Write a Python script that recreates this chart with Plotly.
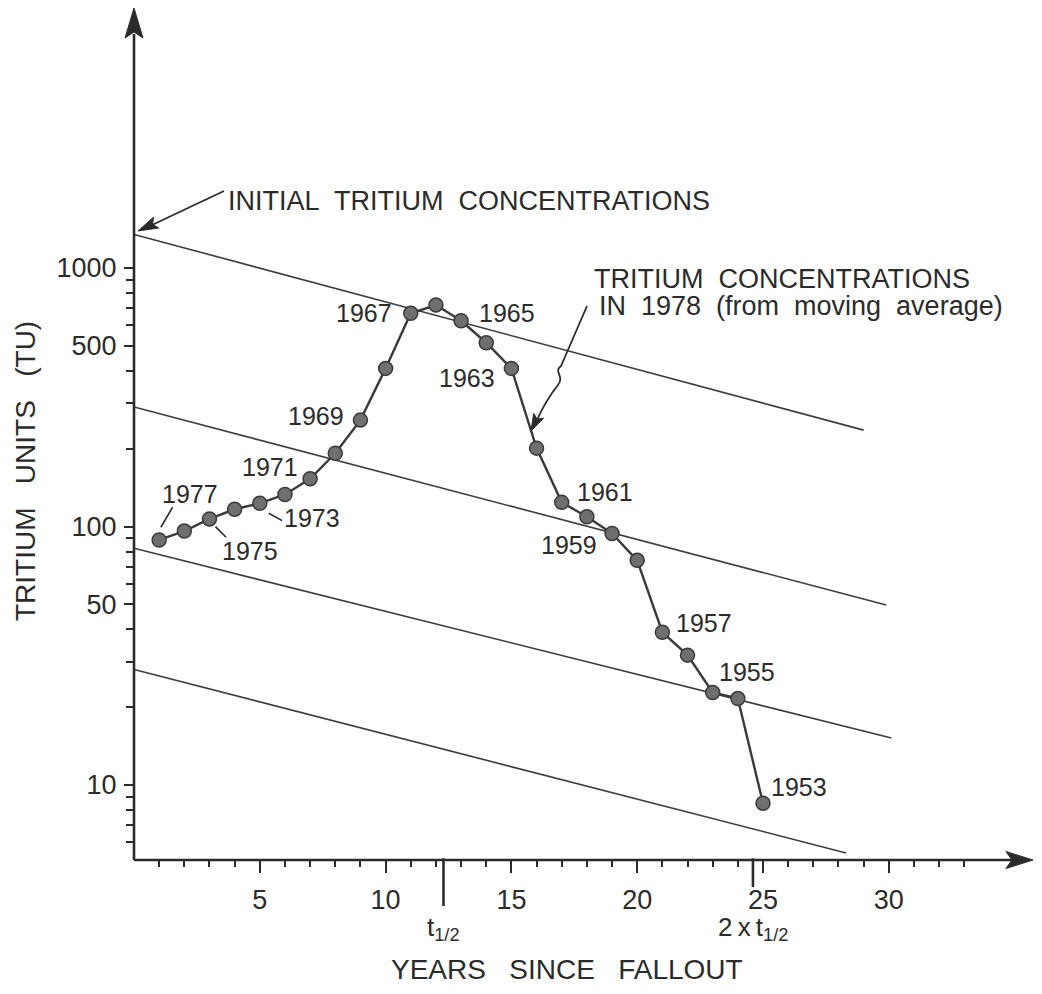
import math
import plotly.graph_objects as go

# ---- data -----------------------------------------------------------------
# Tritium in 1978 (moving average) versus years since the fallout year
years_since = list(range(1, 26))
sample_year = [1978 - t for t in years_since]
tritium_tu = [88.7, 96, 107, 116.6, 123, 133, 153, 192, 258, 409,
              668, 719, 625, 514, 409, 201, 124, 109, 94, 74,
              39, 31.8, 22.8, 21.6, 8.5]

# Radioactive-decay lines of initial tritium concentrations (start / end)
decay_start_t = [0.0, 0.0, 0.0, 0.0]
decay_start_tu = [1349, 290, 82.4, 28.0]
decay_end_t = [29.0, 29.9, 30.1, 28.3]
decay_end_tu = [236, 49.7, 15.2, 5.46]

labelled_years = [1977, 1975, 1973, 1971, 1969, 1967, 1965, 1963,
                  1961, 1959, 1957, 1955, 1953]

x_major = [5, 10, 15, 20, 25, 30]
x_minor = [t for t in range(1, 34) if t % 5]
y_major = [10, 50, 100, 500, 1000]
y_major_text = ["10", "50", "100", "500", "1000"]
y_minor = [6, 7, 8, 9, 20, 30, 40, 60, 70, 80, 90,
           200, 300, 400, 600, 700, 800, 900]

HALF_LIFE = 12.3  # years

# ---- page geometry ----------------------------------------------------------
W, H = 1042, 994
L, T, PW, PH = 134, 0, 908, 860
PX_PER_YEAR = 25.16
PX_PER_DECADE = 258.5
X_RANGE = [0, PW / PX_PER_YEAR]
Y_LOW = 0.7099
Y_RANGE = [Y_LOW, Y_LOW + PH / PX_PER_DECADE]

INK = "#2b2b2b"
FONT = "Liberation Sans, Arial, Helvetica, sans-serif"
SP = "\u00a0 "              # wide word gap
SP3 = "\u00a0\u00a0 "       # wider word gap


def paper(px, py):
    return (px - L) / PW, (T + PH - py) / PH


def path_from_px(points, close=False):
    parts = []
    for i, (px, py) in enumerate(points):
        x, y = paper(px, py)
        parts.append(("M" if i == 0 else "L") + f"{x:.5f},{y:.5f}")
    return " ".join(parts) + (" Z" if close else "")


def arrow_head(tip, tail, length, half_w, notch):
    tx, ty = tip
    dx, dy = tip[0] - tail[0], tip[1] - tail[1]
    n = math.hypot(dx, dy)
    ux, uy = dx / n, dy / n
    nx, ny = -uy, ux
    bx, by = tx - ux * length, ty - uy * length
    mx, my = tx - ux * (length - notch), ty - uy * (length - notch)
    pts = [(tx, ty), (bx + nx * half_w, by + ny * half_w), (mx, my),
           (bx - nx * half_w, by - ny * half_w)]
    return path_from_px(pts, close=True)


def text_at(px, py, text, size, xanchor="center", **kw):
    x, y = paper(px, py)
    return dict(x=x, y=y, xref="paper", yref="paper", xanchor=xanchor,
                yanchor="middle", text=text, showarrow=False,
                font=dict(family=FONT, size=size, color=INK), **kw)


fig = go.Figure()

# decay lines
for t0, c0, t1, c1 in zip(decay_start_t, decay_start_tu, decay_end_t, decay_end_tu):
    fig.add_trace(go.Scatter(
        x=[t0, t1], y=[c0, c1], mode="lines",
        line=dict(color="#3c3c3c", width=1.6),
        hoverinfo="skip", showlegend=False))

# short leader strokes for the crowded labels (pixel offsets from the point)
leaders = {1977: ((1.7, -12.7), (13.4, -32.7)),
           1975: ((6.0, 7.7), (16.6, 18.3)),
           1973: ((9.0, 10.0), (22.4, 17.4))}
for yr, segment in leaders.items():
    i = sample_year.index(yr)
    t, v = years_since[i], tritium_tu[i]
    fig.add_trace(go.Scatter(
        x=[t + dx / PX_PER_YEAR for dx, dy in segment],
        y=[v * 10 ** (-dy / PX_PER_DECADE) for dx, dy in segment],
        mode="lines", line=dict(color=INK, width=1.6),
        hoverinfo="skip", showlegend=False))

# measured series
fig.add_trace(go.Scatter(
    x=years_since, y=tritium_tu, mode="lines+markers",
    line=dict(color="#3a3a3a", width=2.4),
    marker=dict(size=14, color="#6f6f6f", line=dict(color="#3a3a3a", width=1.5)),
    text=[str(y) for y in sample_year],
    hovertemplate="%{text}: %{y} TU<extra></extra>",
    showlegend=False))

annotations = []
shapes = []

# year labels beside their points (pixel offsets, screen y down)
label_offset = {
    1977: (31, -46), 1975: (41, 32), 1973: (52, 15), 1971: (-40, -12),
    1969: (-44, -4), 1967: (-47, 0), 1965: (46, -8), 1963: (-44, 10),
    1961: (43, -10), 1959: (-43, 12), 1957: (42, -9), 1955: (34, -20),
    1953: (36, -16),
}
for yr in labelled_years:
    i = sample_year.index(yr)
    dx, dy = label_offset[yr]
    annotations.append(dict(
        x=years_since[i], y=math.log10(tritium_tu[i]), xref="x", yref="y",
        xanchor="center", yanchor="middle",
        text=str(yr), showarrow=False, xshift=dx, yshift=-dy,
        font=dict(family=FONT, size=25, color=INK)))

# axes drawn as arrows
shapes.append(dict(type="path", xref="paper", yref="paper",
                   path=path_from_px([(134, 860), (1012, 860)]),
                   line=dict(color=INK, width=2.6)))
shapes.append(dict(type="path", xref="paper", yref="paper",
                   path=arrow_head((1033, 860), (134, 860), 27, 8.5, 6),
                   fillcolor=INK, line=dict(color=INK, width=1)))
shapes.append(dict(type="path", xref="paper", yref="paper",
                   path=path_from_px([(134, 860), (134, 34)]),
                   line=dict(color=INK, width=2.6)))
shapes.append(dict(type="path", xref="paper", yref="paper",
                   path=arrow_head((134, 8), (134, 860), 30, 9, 6),
                   fillcolor=INK, line=dict(color=INK, width=1)))

# half-life marks on the time axis
for mult, ln in ((1, 46), (2, 27)):
    shapes.append(dict(type="line", xref="x", yref="paper",
                       x0=mult * HALF_LIFE, x1=mult * HALF_LIFE,
                       y0=0.002, y1=-ln / PH,
                       line=dict(color=INK, width=2.6)))
ylab = paper(0, 928)[1]
annotations.append(dict(x=HALF_LIFE, xref="x", y=ylab, yref="paper",
                        xanchor="center", yanchor="middle",
                        text="t<sub>1/2</sub>", showarrow=False,
                        font=dict(family=FONT, size=26, color=INK)))
annotations.append(dict(x=2 * HALF_LIFE, xref="x", y=ylab, yref="paper",
                        xanchor="center", yanchor="middle",
                        text="2\u2009x\u2009t<sub>1/2</sub>", showarrow=False,
                        font=dict(family=FONT, size=26, color=INK)))

# callout: initial concentrations
annotations.append(text_at(226, 201, f"INITIAL{SP}TRITIUM{SP}CONCENTRATIONS", 27,
                           xanchor="left"))
shapes.append(dict(type="path", xref="paper", yref="paper",
                   path=path_from_px([(224, 191), (152, 225)]),
                   line=dict(color=INK, width=1.8)))
shapes.append(dict(type="path", xref="paper", yref="paper",
                   path=arrow_head((138, 231), (224, 191), 20, 6, 4),
                   fillcolor=INK, line=dict(color=INK, width=1)))

# callout: 1978 concentrations with curly pointer
annotations.append(text_at(592, 279, f"TRITIUM{SP}CONCENTRATIONS", 27, xanchor="left"))
annotations.append(text_at(597, 306, f"IN{SP}1978{SP}(from{SP}moving{SP}average)", 27,
                           xanchor="left"))


def curve_px(cmds):
    out = []
    for op, pts in cmds:
        coords = " ".join("%.5f,%.5f" % paper(px, py) for px, py in pts)
        out.append(op + coords)
    return " ".join(out)


shapes.append(dict(type="path", xref="paper", yref="paper",
                   path=curve_px([("M", [(587, 306)]), ("L", [(561, 366)]),
                                  ("C", [(553, 372), (565, 376), (558, 385)]),
                                  ("Q", [(546, 400), (537, 420)])]),
                   line=dict(color=INK, width=1.8)))
shapes.append(dict(type="path", xref="paper", yref="paper",
                   path=arrow_head((531, 431), (541, 411), 17, 5.5, 3.5),
                   fillcolor=INK, line=dict(color=INK, width=1)))

# axis titles
annotations.append(text_at(567, 969, f"YEARS{SP3}SINCE{SP3}FALLOUT", 28))
annotations.append(text_at(25, 471, f"TRITIUM{SP3}UNITS{SP3}(TU)", 28, textangle=-90))

fig.update_layout(
    width=W, height=H,
    margin=dict(l=L, r=W - L - PW, t=T, b=H - T - PH),
    paper_bgcolor="white", plot_bgcolor="white",
    annotations=annotations, shapes=shapes,
    xaxis=dict(range=X_RANGE, showline=False, showgrid=False, zeroline=False,
               tickmode="array", tickvals=x_major, ticktext=[str(v) for v in x_major],
               ticks="outside", ticklen=12, tickwidth=2, tickcolor=INK,
               ticklabelstandoff=4,
               tickfont=dict(family=FONT, size=27, color=INK),
               minor=dict(tickmode="array", tickvals=x_minor, ticks="outside",
                          ticklen=6, tickwidth=1.6, tickcolor=INK, showgrid=False)),
    yaxis=dict(type="log", range=Y_RANGE, showline=False, showgrid=False, zeroline=False,
               tickmode="array", tickvals=y_major, ticktext=y_major_text,
               ticks="outside", ticklen=9, tickwidth=2, tickcolor=INK,
               ticklabelstandoff=2,
               tickfont=dict(family=FONT, size=27, color=INK),
               minor=dict(tickmode="array", tickvals=y_minor, ticks="outside",
                          ticklen=7, tickwidth=1.6, tickcolor=INK, showgrid=False)),
)

fig.write_html("out.html")
